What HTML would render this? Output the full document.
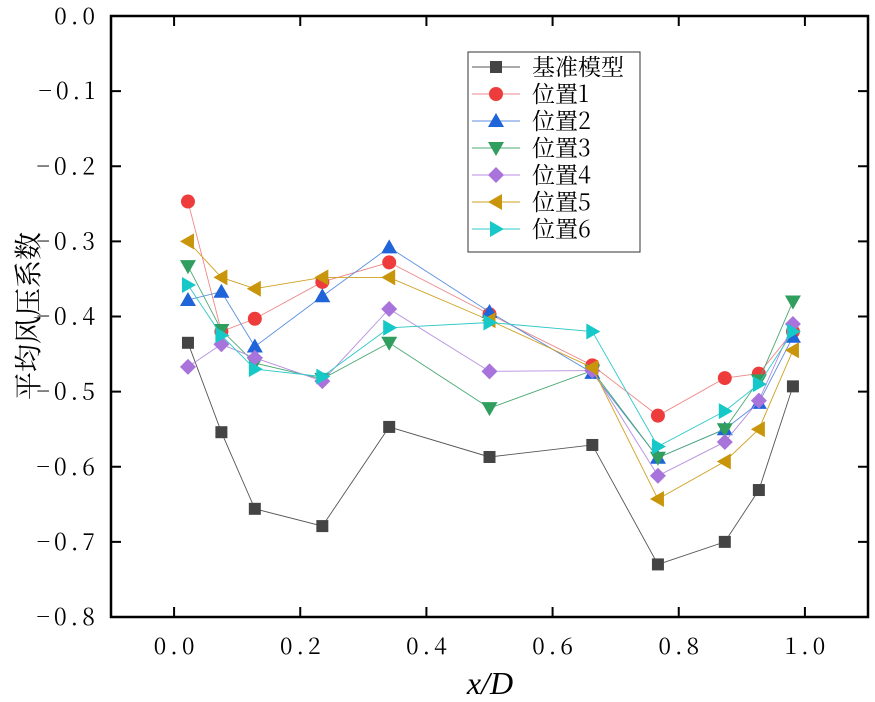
<!DOCTYPE html>
<html><head><meta charset="utf-8"><style>body{margin:0;background:#fff}</style></head>
<body>
<svg id="chart" width="875" height="697" xmlns="http://www.w3.org/2000/svg"
 style="font-family:'Liberation Serif','Noto Serif CJK SC',serif">
</svg>
<script>
const xs = [0.022,0.075,0.128,0.235,0.341,0.50,0.663,0.767,0.873,0.927,0.981];
const base = [-0.435,-0.554,-0.656,-0.679,-0.547,-0.587,-0.571,-0.730,-0.700,-0.631,-0.493];
const pos1 = [-0.247,-0.420,-0.403,-0.354,-0.328,-0.397,-0.465,-0.532,-0.482,-0.476,-0.420];
const pos2 = [-0.378,-0.367,-0.440,-0.373,-0.308,-0.394,-0.475,-0.588,-0.550,-0.515,-0.427];
const pos3 = [-0.333,-0.418,-0.462,-0.483,-0.435,-0.522,-0.472,-0.588,-0.550,-0.485,-0.380];
const pos4 = [-0.467,-0.437,-0.455,-0.486,-0.390,-0.473,-0.472,-0.612,-0.567,-0.512,-0.410];
const pos5 = [-0.300,-0.348,-0.363,-0.348,-0.348,-0.405,-0.468,-0.643,-0.593,-0.550,-0.445];
const pos6 = [-0.358,-0.425,-0.470,-0.480,-0.415,-0.408,-0.420,-0.573,-0.526,-0.490,-0.420];
const xTicks = [0.0,0.2,0.4,0.6,0.8,1.0];
const yTicks = [0,-0.1,-0.2,-0.3,-0.4,-0.5,-0.6,-0.7,-0.8];
const names = ['基准模型','位置1','位置2','位置3','位置4','位置5','位置6'];

const L=111,R=868,T=16,B=617;
const X=v=>L+(v+0.1)/1.2*(R-L);
const Y=v=>T+(-v)/0.8*(B-T);
const svg=document.getElementById('chart');
const NS='http://www.w3.org/2000/svg';
function mk(tag,attrs,parent){const e=document.createElementNS(NS,tag);for(const k in attrs)e.setAttribute(k,attrs[k]);(parent||svg).appendChild(e);return e;}
function fmt(v){let s=Math.abs(v).toFixed(1);return (v<0?'\u2212':'')+s;}

const series=[
 {d:base,c:'#444444',lc:'#555',m:'square'},
 {d:pos1,c:'#ee3b3b',lc:'#e88',m:'circle'},
 {d:pos2,c:'#1f64d8',lc:'#5b8fe0',m:'up'},
 {d:pos3,c:'#2f9e5f',lc:'#4aa874',m:'down'},
 {d:pos4,c:'#a874dc',lc:'#b58ee0',m:'diamond'},
 {d:pos5,c:'#c9950a',lc:'#d0a020',m:'left'},
 {d:pos6,c:'#17c8c8',lc:'#30c8c8',m:'right'}
];
function marker(g,type,x,y,c){
 const s=8;let e;
 if(type==='square')e=mk('rect',{x:x-6,y:y-6,width:12,height:12,fill:c},g);
 else if(type==='circle')e=mk('circle',{cx:x,cy:y,r:7,fill:c},g);
 else{let p;
  if(type==='up')p=[[x,y-s],[x+s,y+s*0.75],[x-s,y+s*0.75]];
  if(type==='down')p=[[x,y+s],[x+s,y-s*0.75],[x-s,y-s*0.75]];
  if(type==='left')p=[[x-s,y],[x+s*0.75,y-s],[x+s*0.75,y+s]];
  if(type==='right')p=[[x+s,y],[x-s*0.75,y-s],[x-s*0.75,y+s]];
  if(type==='diamond')p=[[x,y-s],[x+s,y],[x,y+s],[x-s,y]];
  e=mk('polygon',{points:p.map(q=>q.join(',')).join(' '),fill:c},g);}
 return e;
}
series.forEach((s,i)=>{
 const g=mk('g',{});
 
 
 const pl=mk('polyline',{points:xs.map((x,j)=>X(x)+','+Y(s.d[j])).join(' '),fill:'none',stroke:s.lc,'stroke-width':0.9},g);
 
 
 xs.forEach((x,j)=>{const m=marker(g,s.m,X(x),Y(s.d[j]),s.c);
  
  });
});
const ax=mk('rect',{x:L,y:T,width:R-L,height:B-T,fill:'none',stroke:'#000','stroke-width':2.5});


xTicks.forEach(v=>{
 mk('line',{x1:X(v),x2:X(v),y1:B,y2:B-10,stroke:'#000','stroke-width':2});
 mk('line',{x1:X(v),x2:X(v),y1:T,y2:T+10,stroke:'#000','stroke-width':2});
 const t=mk('text',{x:X(v)+2,y:B+37,'text-anchor':'middle','font-size':23,'letter-spacing':4,'font-family':"'Noto Serif CJK SC',serif"});
 t.textContent=v.toFixed(1);
 
 
});
yTicks.forEach(v=>{
 mk('line',{x1:L,x2:L+10,y1:Y(v),y2:Y(v),stroke:'#000','stroke-width':2});
 mk('line',{x1:R,x2:R-10,y1:Y(v),y2:Y(v),stroke:'#000','stroke-width':2});
 const t=mk('text',{x:L-12,y:Y(v)+8,'text-anchor':'end','font-size':23,'letter-spacing':4,'font-family':"'Noto Serif CJK SC',serif"});
 t.textContent=v===0?'0.0':fmt(v);
 
 
});
const xt=mk('text',{x:490,y:694,'text-anchor':'middle','font-size':32,'font-style':'italic'});
xt.textContent='x/D';


const yt=mk('text',{x:0,y:0,'text-anchor':'middle','font-size':28,transform:'translate(38,316) rotate(-90)','font-family':"'Noto Serif CJK SC',serif"});
yt.textContent='平均风压系数';


const lg=mk('g',{});


mk('rect',{x:468,y:52,width:172,height:200,fill:'#fff',stroke:'#333','stroke-width':1},lg);
series.forEach((s,i)=>{
 const y=67+i*27;
 const e=mk('g',{},lg);
 
 
 mk('line',{x1:472,x2:520,y1:y,y2:y,stroke:s.lc,'stroke-width':0.9},e);
 marker(e,s.m,496,y,s.c);
 const t=mk('text',{x:532,y:y+8,'font-size':23,'font-family':"'Noto Serif CJK SC',serif"},e);
 t.textContent=names[i];
});
</script>
</body></html>
